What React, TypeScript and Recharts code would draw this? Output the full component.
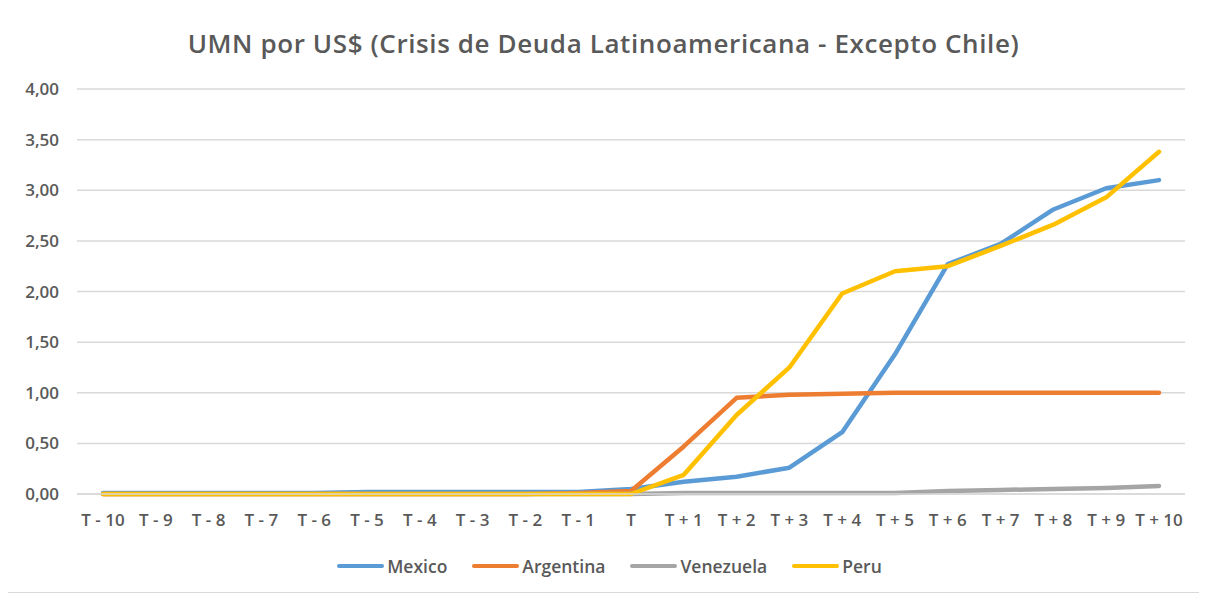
import { LineChart, Line, XAxis, YAxis, CartesianGrid } from "recharts"

const periods = [
  "T - 10", "T - 9", "T - 8", "T - 7", "T - 6", "T - 5", "T - 4", "T - 3", "T - 2", "T - 1", "T",
  "T + 1", "T + 2", "T + 3", "T + 4", "T + 5", "T + 6", "T + 7", "T + 8", "T + 9", "T + 10",
]

const mexico = [0.01, 0.01, 0.01, 0.01, 0.01, 0.02, 0.02, 0.02, 0.02, 0.02, 0.05, 0.12, 0.17, 0.26, 0.61, 1.38, 2.27, 2.47, 2.81, 3.02, 3.1]
const argentina = [0, 0, 0, 0, 0, 0, 0, 0, 0, 0.01, 0.03, 0.47, 0.95, 0.98, 0.99, 1.0, 1.0, 1.0, 1.0, 1.0, 1.0]
const venezuela = [0, 0, 0, 0, 0, 0, 0, 0, 0, 0, 0, 0.01, 0.01, 0.01, 0.01, 0.01, 0.03, 0.04, 0.05, 0.06, 0.08]
const peru = [0, 0, 0, 0, 0, 0, 0, 0, 0, 0, 0, 0.19, 0.78, 1.25, 1.98, 2.2, 2.25, 2.45, 2.66, 2.93, 3.38]

const yTicks = [0, 0.5, 1, 1.5, 2, 2.5, 3, 3.5, 4]

const series = [
  { key: "Mexico", color: "#5B9BD5" },
  { key: "Argentina", color: "#ED7D31" },
  { key: "Venezuela", color: "#A5A5A5" },
  { key: "Peru", color: "#FFC000" },
]

const data = periods.map((p, i) => ({
  name: p,
  Mexico: mexico[i],
  Argentina: argentina[i],
  Venezuela: venezuela[i],
  Peru: peru[i],
}))

const font = "'Open Sans', 'Noto Sans', sans-serif"
const textColor = "#595959"

export default function App() {
  return (
    <div
      style={{
        position: "relative",
        width: 1203,
        height: 590,
        marginLeft: -6,
        marginTop: -5,
        border: "1px solid #D9D9D9",
        boxSizing: "border-box",
        background: "#fff",
        fontFamily: font,
      }}
    >
      <div
        style={{
          position: "absolute",
          top: 21,
          left: 0,
          width: "100%",
          textAlign: "center",
          fontSize: 26,
          fontWeight: 600,
          color: textColor,
          letterSpacing: 0.6,
        }}
      >
        UMN por US$ (Crisis de Deuda Latinoamericana - Excepto Chile)
      </div>
      <LineChart
        width={1201}
        height={588}
        data={data}
        margin={{ top: 85, right: 19, bottom: 68, left: 0 }}
      >
        <CartesianGrid vertical={false} stroke="#D9D9D9" strokeWidth={1.5} />
        <XAxis
          dataKey="name"
          interval={0}
          padding={{ left: 26, right: 26 }}
          tickLine={false}
          axisLine={{ stroke: "#D9D9D9", strokeWidth: 1.5 }}
          tick={{ fill: textColor, fontSize: 17, fontWeight: 600, fontFamily: font }}
          tickMargin={14}
          height={30}
        />
        <YAxis
          domain={[0, 4]}
          ticks={yTicks}
          width={74}
          tickLine={false}
          axisLine={false}
          tickSize={0}
          tickMargin={18}
          tick={{ fill: textColor, fontSize: 17, fontWeight: 600, fontFamily: font }}
          tickFormatter={(v: number) => v.toFixed(2).replace(".", ",")}
        />
        {series.map((s) => (
          <Line
            key={s.key}
            type="linear"
            dataKey={s.key}
            stroke={s.color}
            strokeWidth={4.5}
            strokeLinecap="round"
            strokeLinejoin="round"
            dot={false}
            activeDot={false}
            isAnimationActive={false}
          />
        ))}
      </LineChart>
      <div
        style={{
          position: "absolute",
          top: 550,
          left: 0,
          width: "100%",
          display: "flex",
          justifyContent: "center",
          gap: 25,
          paddingLeft: 12,
          boxSizing: "border-box",
        }}
      >
        {series.map((s) => (
          <div key={s.key} style={{ display: "flex", alignItems: "center", gap: 3 }}>
            <div style={{ width: 47, height: 4, borderRadius: 2, background: s.color }} />
            <span style={{ fontSize: 17.5, fontWeight: 600, color: textColor }}>{s.key}</span>
          </div>
        ))}
      </div>
    </div>
  )
}
